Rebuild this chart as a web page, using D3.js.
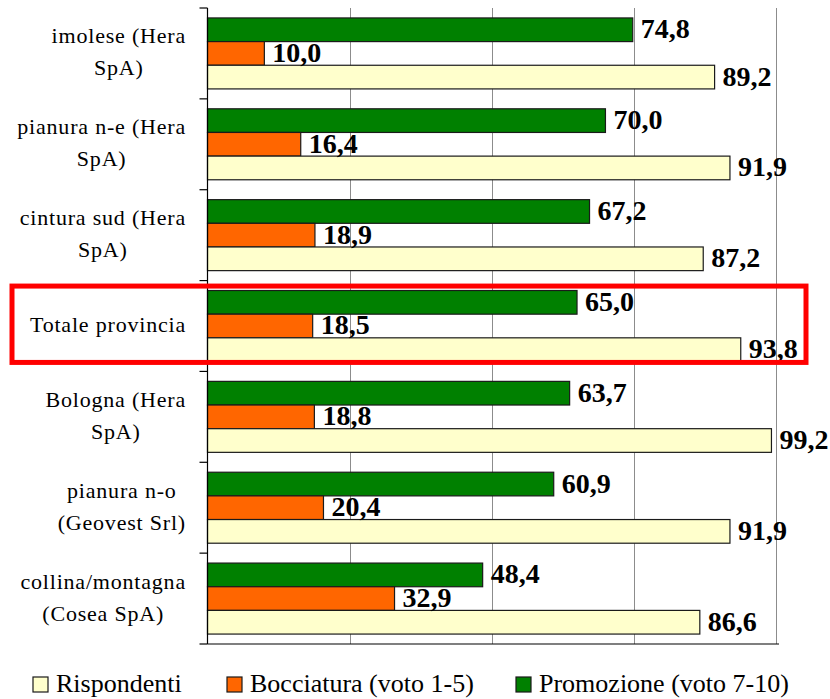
<!DOCTYPE html>
<html>
<head>
<meta charset="utf-8">
<script src="https://cdn.jsdelivr.net/npm/d3@7"></script>
<style>
  body { margin: 0; background: #fff; }
  svg { display: block; }
  svg text { font-family: "Liberation Serif", "Times New Roman", Times, serif; fill: #000; }
</style>
</head>
<body>
<svg width="830" height="699"></svg>
<script>
// data
const categories = [
  ["imolese (Hera", "SpA)"],
  ["pianura n-e (Hera", "SpA)"],
  ["cintura sud (Hera", "SpA)"],
  ["Totale provincia"],
  ["Bologna (Hera", "SpA)"],
  ["pianura n-o", "(Geovest Srl)"],
  ["collina/montagna", "(Cosea SpA)"]
];
const promozione = [74.8, 70.0, 67.2, 65.0, 63.7, 60.9, 48.4];
const bocciatura = [10.0, 16.4, 18.9, 18.5, 18.8, 20.4, 32.9];
const rispondenti = [89.2, 91.9, 87.2, 93.8, 99.2, 91.9, 86.6];
const seriesNames = ["Rispondenti", "Bocciatura (voto 1-5)", "Promozione (voto 7-10)"];
const xTicks = [0, 25, 50, 75, 100];
const highlight = "Totale provincia";

const colors = {
  "Promozione (voto 7-10)": "#008000",
  "Bocciatura (voto 1-5)": "#ff6600",
  "Rispondenti": "#ffffcc"
};

const svg = d3.select("svg");
const plotLeft = 207.5, plotRight = 776, plotTop = 8, plotBottom = 644;

const keys = categories.map(d => d.join(" "));
const rows = keys.map((k, i) => ({
  key: k,
  lines: categories[i],
  vals: [
    {s: "Promozione (voto 7-10)", v: promozione[i]},
    {s: "Bocciatura (voto 1-5)", v: bocciatura[i]},
    {s: "Rispondenti", v: rispondenti[i]}
  ]
}));

const x = d3.scaleLinear().domain([0, 100]).range([plotLeft, plotRight]);
const y0 = d3.scaleBand().domain(keys).range([plotTop, plotBottom]);
const y1 = d3.scaleBand()
  .domain(["Promozione (voto 7-10)", "Bocciatura (voto 1-5)", "Rispondenti"])
  .range([0, y0.bandwidth()])
  .paddingInner(0).paddingOuter(0.42);

// gridlines
svg.append("g")
  .selectAll("line")
  .data(xTicks.slice(1))
  .join("line")
  .attr("x1", d => Math.round(x(d)) + 0.5)
  .attr("x2", d => Math.round(x(d)) + 0.5)
  .attr("y1", plotTop).attr("y2", plotBottom)
  .attr("stroke", "#8c8c8c").attr("stroke-width", 1);

// bars
const groups = svg.append("g")
  .selectAll("g")
  .data(rows)
  .join("g")
  .attr("transform", d => `translate(0,${y0(d.key)})`);

groups.selectAll("rect")
  .data(d => d.vals)
  .join("rect")
  .attr("x", x(0))
  .attr("y", d => y1(d.s))
  .attr("width", d => x(d.v) - x(0))
  .attr("height", y1.bandwidth())
  .attr("fill", d => colors[d.s])
  .attr("stroke", "#1a1a1a")
  .attr("stroke-width", 1.2);

groups.selectAll("text.val")
  .data(d => d.vals)
  .join("text")
  .attr("class", "val")
  .attr("x", d => x(d.v) + 8)
  .attr("y", d => y1(d.s) + y1.bandwidth() / 2 + 8.5)
  .style("font-weight", "bold")
  .style("font-size", "28px")
  .text(d => d3.format(".1f")(d.v).replace(".", ","));

// axis (left line and ticks at category boundaries)
const axis = svg.append("g");
axis.append("line")
  .attr("x1", plotLeft).attr("x2", plotLeft)
  .attr("y1", plotTop).attr("y2", plotBottom)
  .attr("stroke", "#000").attr("stroke-width", 1.2);
const bounds = keys.map(k => y0(k)).concat([plotBottom]);
axis.selectAll("line.tick")
  .data(bounds)
  .join("line")
  .attr("class", "tick")
  .attr("x1", plotLeft - 8).attr("x2", plotLeft)
  .attr("y1", d => d).attr("y2", d => d)
  .attr("stroke", "#000").attr("stroke-width", 1.2);
axis.append("line")
  .attr("x1", plotLeft).attr("x2", plotRight + 3)
  .attr("y1", plotBottom).attr("y2", plotBottom)
  .attr("stroke", "#000").attr("stroke-width", 1.2);

// category labels
const labelRight = 186;
const labels = svg.append("g")
  .selectAll("g")
  .data(rows)
  .join("g");
labels.each(function(d) {
  const g = d3.select(this);
  const c = y0(d.key) + y0.bandwidth() / 2;
  const n = d.lines.length;
  const texts = g.selectAll("text")
    .data(d.lines)
    .join("text")
    .style("font-size", "22px")
    .style("letter-spacing", "0.8px")
    .attr("text-anchor", "middle")
    .attr("y", (t, i) => c + 6 + (i - (n - 1) / 2) * 32)
    .text(t => t);
  let w = 0;
  texts.each(function() { w = Math.max(w, this.getComputedTextLength()); });
  texts.attr("x", labelRight - w / 2);
});

// highlight box
const hi = keys.indexOf(highlight);
svg.append("rect")
  .attr("x", 12)
  .attr("y", y0(keys[hi]) + 5.5)
  .attr("width", 794)
  .attr("height", y0.bandwidth() - 14.5)
  .attr("fill", "none")
  .attr("stroke", "#ff0000")
  .attr("stroke-width", 5);

// legend
const legendX = [33, 227, 516];
const legend = svg.append("g")
  .selectAll("g")
  .data(seriesNames)
  .join("g")
  .attr("transform", (d, i) => `translate(${legendX[i]},677)`);
legend.append("rect")
  .attr("width", 15).attr("height", 15)
  .attr("fill", d => colors[d])
  .attr("stroke", "#1a1a1a").attr("stroke-width", 1.2);
legend.append("text")
  .attr("x", 23).attr("y", 15)
  .style("font-size", "26px")
  .text(d => d);
</script>
</body>
</html>
